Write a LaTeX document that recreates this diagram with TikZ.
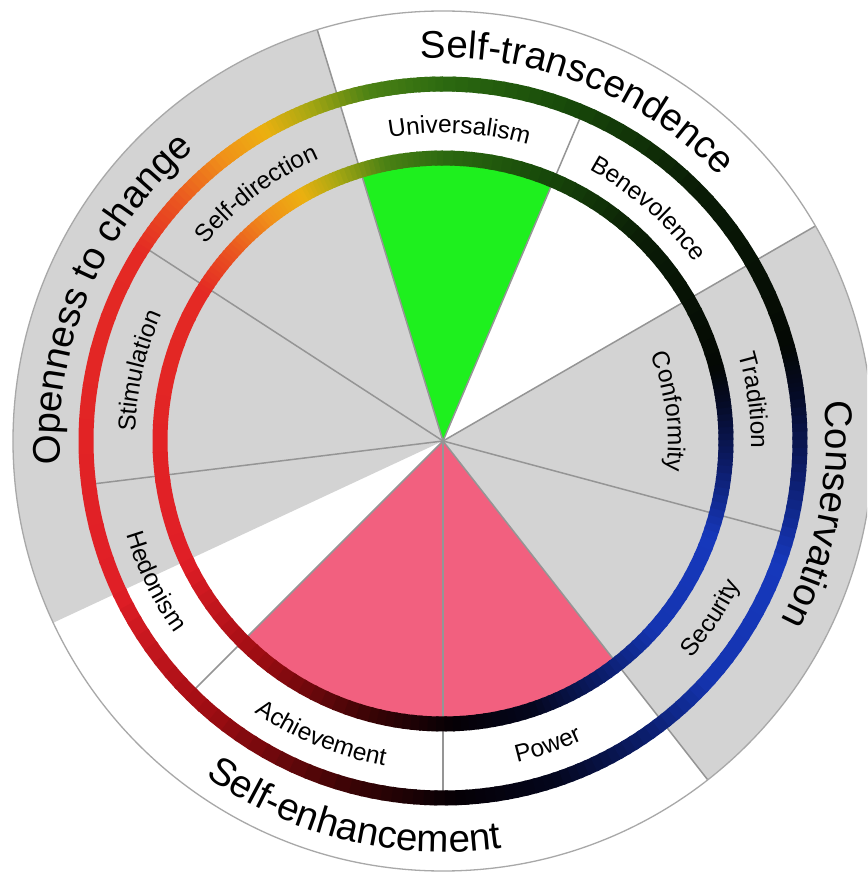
\documentclass[tikz,border=0pt]{standalone}
\usepackage{fontspec}
\setmainfont{Liberation Sans}
\usetikzlibrary{decorations.text}
\definecolor{secgray}{HTML}{D3D3D3}
\definecolor{univgreen}{HTML}{1EF01E}
\definecolor{enhpink}{HTML}{F2607F}
\definecolor{linegray}{HTML}{959595}
\definecolor{circgray}{HTML}{A8A8A8}
% colour stops of the bands
\definecolor{b00}{HTML}{040804}
\definecolor{b01}{HTML}{0A1C06}
\definecolor{b02}{HTML}{184A0A}
\definecolor{b03}{HTML}{2C6A10}
\definecolor{b04}{HTML}{4C8214}
\definecolor{b05}{HTML}{A8A812}
\definecolor{b06}{HTML}{ECB010}
\definecolor{b07}{HTML}{F0901A}
\definecolor{b08}{HTML}{EA5520}
\definecolor{b09}{HTML}{E42A24}
\definecolor{b10}{HTML}{E01E26}
\definecolor{b11}{HTML}{9C0C12}
\definecolor{b12}{HTML}{3A0405}
\definecolor{b13}{HTML}{050005}
\definecolor{b14}{HTML}{04061C}
\definecolor{b15}{HTML}{0A1A60}
\definecolor{b16}{HTML}{1434B0}
\definecolor{b17}{HTML}{1638BC}
\definecolor{b18}{HTML}{0C1C68}
\definecolor{b19}{HTML}{050A24}
\newcommand\grpfont{\fontsize{38.5pt}{40pt}\selectfont}
\newcommand\valfont{\fontsize{24.5pt}{26pt}\selectfont}
\newcommand\colorband[1]{%
  \foreach \ga/\gb/\gc/\gd in {15/45/b00/b01, 45/70/b01/b02, 70/90/b02/b03,
      90/102/b03/b04, 102/112/b04/b05, 112/120/b05/b06, 120/128/b06/b07,
      128/138/b07/b08, 138/148/b08/b09, 148/205/b09/b10, 205/230/b10/b11,
      230/255/b11/b12, 255/272/b12/b13, 272/288/b13/b14, 288/302/b14/b15,
      302/318/b15/b16, 318/340/b16/b17, 340/355/b17/b18, 355/368/b18/b19,
      368/375/b19/b00}{%
    \foreach \gi in {0,...,9}{%
      \pgfmathsetmacro\segA{\ga+(\gb-\ga)*\gi/10}%
      \pgfmathsetmacro\segB{\ga+(\gb-\ga)*(\gi+1)/10+0.5}%
      \pgfmathtruncatemacro\segP{95-10*\gi}%
      \draw[line width=15pt, draw=\gc!\segP!\gd] (\segA:#1)
        arc[start angle=\segA, end angle=\segB, radius=#1];
    }%
  }%
}
% clockwise text, letter tops outward
\newcommand\cwlabel[4]{%
  \path[decorate, decoration={text along path, text align=center, text={|#4|#1}}]
    (#2+40:#3) arc[start angle=#2+40, end angle=#2-40, radius=#3];
}
% counter-clockwise text, letter tops inward
\newcommand\ccwlabel[4]{%
  \path[decorate, decoration={text along path, text align=center, text={|#4|#1}}]
    (#2-40:#3) arc[start angle=#2-40, end angle=#2+40, radius=#3];
}
\tikzset{sepline/.style={draw=linegray, line width=1.5pt}}
\begin{document}
\begin{tikzpicture}[x=1pt,y=1pt]
\useasboundingbox (-443pt,-431pt) rectangle (424pt,441pt);
\clip (-443pt,-431pt) rectangle (424pt,441pt);
\fill[white] (-443pt,-431pt) rectangle (424pt,441pt);
\coordinate (c) at (0,0);
% group sectors
\fill[secgray] (c) -- (107:430pt) arc[start angle=107, end angle=205, radius=430pt] -- cycle;
\fill[secgray] (c) -- (-52:430pt) arc[start angle=-52, end angle=30, radius=430pt] -- cycle;
% highlighted value wedges
\fill[univgreen] (c) -- (67:283pt) arc[start angle=67, end angle=107, radius=283pt] -- cycle;
\fill[enhpink] (c) -- (-135:283pt) arc[start angle=-135, end angle=-52, radius=283pt] -- cycle;
% separating lines
\foreach \ang in {30,-52,107}{\draw[sepline] (c) -- (\ang:430pt);}
\foreach \ang in {67,-15,-90,-135,147,187}{\draw[sepline] (c) -- (\ang:357pt);}
% outer circle
\draw[draw=circgray, line width=1.3pt] (c) circle[radius=430pt];
% colour bands
\colorband{283pt}
\colorband{357pt}
% group labels
\cwlabel{Self-transcendence}{68.5}{383pt}{\grpfont}
\cwlabel{Openness to change}{157}{383pt}{\grpfont}
\cwlabel{Conservation}{-11}{383pt}{\grpfont}
\ccwlabel{Self-enhancement}{256.5}{411pt}{\grpfont}
% value labels
\cwlabel{Universalism}{87}{308pt}{\valfont}
\cwlabel{Benevolence}{48.5}{308pt}{\valfont}
\cwlabel{Tradition}{7.5}{308pt}{\valfont}
\cwlabel{Conformity}{7.5}{225pt}{\valfont}
\cwlabel{Stimulation}{167}{308pt}{\valfont}
\cwlabel{Self-direction}{127}{308pt}{\valfont}
\ccwlabel{Security}{-33.5}{330pt}{\valfont}
\ccwlabel{Power}{-71}{330pt}{\valfont}
\ccwlabel{Achievement}{-112.5}{330pt}{\valfont}
\ccwlabel{Hedonism}{206}{330pt}{\valfont}
\end{tikzpicture}
\end{document}
